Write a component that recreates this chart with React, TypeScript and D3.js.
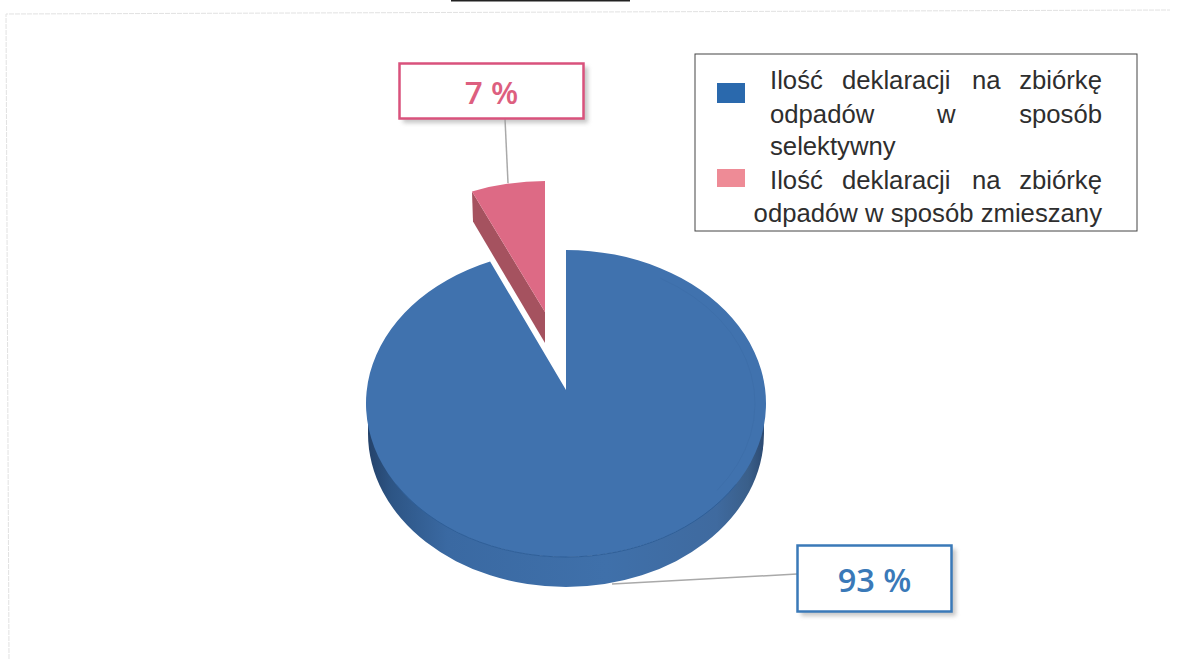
import React from "react";
import * as d3 from "d3";

const categories = [
  ["Ilość deklaracji na zbiórkę", "odpadów w sposób", "selektywny"],
  ["Ilość deklaracji na zbiórkę", "odpadów w sposób zmieszany"],
];
const values = [93, 7];
const labels = ["93 %", "7 %"];
const colors = ["#4072ae", "#dd6a85"];

const W = 1177, H = 659;
const RX = 200, RY = 153.5, DEPTH = 30;
const CX = 566, CY = 403.5;
const SQUEEZE = 0.885; // foreshortening of the tilted pie
const PINK_SQUEEZE = 0.96;

const arcs = d3.pie<number>().sort(null).startAngle(0).endAngle(2 * Math.PI)(values);
const smallSweep = (arcs[1].endAngle - arcs[1].startAngle) * SQUEEZE;

const pt = (cx: number, cy: number, a: number) => [cx + RX * Math.sin(a), cy - RY * Math.cos(a)];

function sector(cx: number, cy: number, a0: number, a1: number, ax: number, ay: number) {
  const s = pt(cx, cy, a0), e = pt(cx, cy, a1);
  const large = Math.abs(a1 - a0) > Math.PI ? 1 : 0;
  return `M${ax},${ay}L${s[0]},${s[1]}A${RX},${RY} 0 ${large} 1 ${e[0]},${e[1]}Z`;
}

const blueEnd = 2 * Math.PI - smallSweep;
const blueTop = sector(CX, CY, 0, blueEnd, CX, 390);
const SRX = RX - 2;
const blueSide = `M${CX - SRX},${CY}A${SRX},${RY} 0 0 0 ${CX + SRX},${CY}L${CX + SRX},${CY + DEPTH}A${SRX},${RY} 0 0 1 ${CX - SRX},${CY + DEPTH}Z`;
const INNER_RX = RX - 11, INNER_RY = RY - 9;
const innerRing = `M${CX + INNER_RX * 0.5},${CY - INNER_RY * 0.866}A${INNER_RX},${INNER_RY} 0 0 1 ${CX + INNER_RX * 0.8},${CY + INNER_RY * 0.6}`;

const PX = 545, PY = 334.5;
const pinkSweep = smallSweep * PINK_SQUEEZE;
const pinkTop = sector(PX, PY, -pinkSweep, 0, PX, 312);
const pinkL = pt(PX, PY, -pinkSweep);
const pinkSide = `M${pinkL[0]},${pinkL[1]}L${PX},312L${PX},343L${pinkL[0] + 1},${pinkL[1] + DEPTH}Z`;

const fs = "'Liberation Sans', Arial, sans-serif";
const lf = "'Open Sans', sans-serif";

function Word({ x, y, t, end }: { x: number; y: number; t: string; end?: boolean }) {
  return <text x={x} y={y} textAnchor={end ? "end" : "start"} fontFamily={fs} fontSize={25.7} fill="#2e2e2e">{t}</text>;
}

export default function App() {
  const w1 = categories[0][0].split(" ");
  const w2 = categories[0][1].split(" ");
  const w4 = categories[1][0].split(" ");
  return (
    <svg width={W} height={H} style={{ position: "absolute", left: 0, top: 0 }}>
      <defs>
        <linearGradient id="side" x1="0" x2="1" y1="0" y2="0">
          <stop offset="0" stopColor="#24426a" />
          <stop offset="0.06" stopColor="#2d5585" />
          <stop offset="0.2" stopColor="#3a69a2" />
          <stop offset="0.6" stopColor="#3f70aa" />
          <stop offset="0.88" stopColor="#3f6a9f" />
          <stop offset="0.96" stopColor="#3a5f8a" />
          <stop offset="1" stopColor="#2c4a72" />
        </linearGradient>
        <filter id="sh" x="-10%" y="-10%" width="125%" height="130%">
          <feGaussianBlur stdDeviation="2" />
        </filter>
      </defs>
      <rect width={W} height={H} fill="#ffffff" />
      <path d="M9,659L6,14L1170,10" fill="none" stroke="#e2e2e2" strokeWidth={1} strokeDasharray="5 1" />
      <line x1={451} x2={630} y1={0.5} y2={0.5} stroke="#222" strokeWidth={2} />

      <path d={blueSide} fill="url(#side)" />
      <path d={blueTop} fill={colors[0]} />
      <path d={`M${CX - RX * 0.85},${CY + RY * 0.527}A${RX},${RY} 0 0 0 ${CX + RX * 0.85},${CY + RY * 0.527}`} fill="none" stroke="#2f5f98" strokeWidth={1} />
      <path d={innerRing} fill="none" stroke="#3a69a2" strokeWidth={1} opacity={0.4} />

      <path d={pinkSide} fill="#a5525f" />
      <path d={pinkTop} fill={colors[1]} />

      <line x1={505} y1={119} x2={508} y2={183} stroke="#a9a9a9" strokeWidth={1.5} />
      <line x1={612} y1={584} x2={797} y2={574} stroke="#a9a9a9" strokeWidth={1.5} />

      <rect x={403} y={67} width={185} height={56} fill="#999" opacity={0.55} filter="url(#sh)" />
      <rect x={399.5} y={63.5} width={184} height={55} fill="#fff" stroke="#d9527c" strokeWidth={2.5} />
      <text x={491.5} y={103.5} textAnchor="middle" fontFamily={lf} fontWeight={600} fontSize={31.5} fill="#dd5f7f">{labels[1]}</text>

      <rect x={801} y={549} width={155} height={67} fill="#999" opacity={0.55} filter="url(#sh)" />
      <rect x={797.5} y={545.5} width={154} height={66} fill="#fff" stroke="#3a79b8" strokeWidth={2.5} />
      <text x={874.5} y={592} textAnchor="middle" fontFamily={lf} fontWeight={600} fontSize={32.5} fill="#3a79b8">{labels[0]}</text>

      <rect x={695} y={54} width={442} height={177} fill="#fff" stroke="#444" strokeWidth={1} />
      <rect x={717} y={83} width={28} height={20} fill="#2a69ad" />
      <rect x={717} y={169} width={28} height={18} fill="#ee8b96" />

      <Word x={770} y={89} t={w1[0]} /><Word x={842} y={89} t={w1[1]} /><Word x={972} y={89} t={w1[2]} /><Word x={1102} y={89} t={w1[3]} end />
      <Word x={770} y={123} t={w2[0]} /><Word x={937} y={123} t={w2[1]} /><Word x={1102} y={123} t={w2[2]} end />
      <Word x={770} y={155} t={categories[0][2]} />
      <Word x={770} y={189} t={w4[0]} /><Word x={842} y={189} t={w4[1]} /><Word x={972} y={189} t={w4[2]} /><Word x={1102} y={189} t={w4[3]} end />
      <Word x={1102} y={222} t={categories[1][1]} end />
    </svg>
  );
}
